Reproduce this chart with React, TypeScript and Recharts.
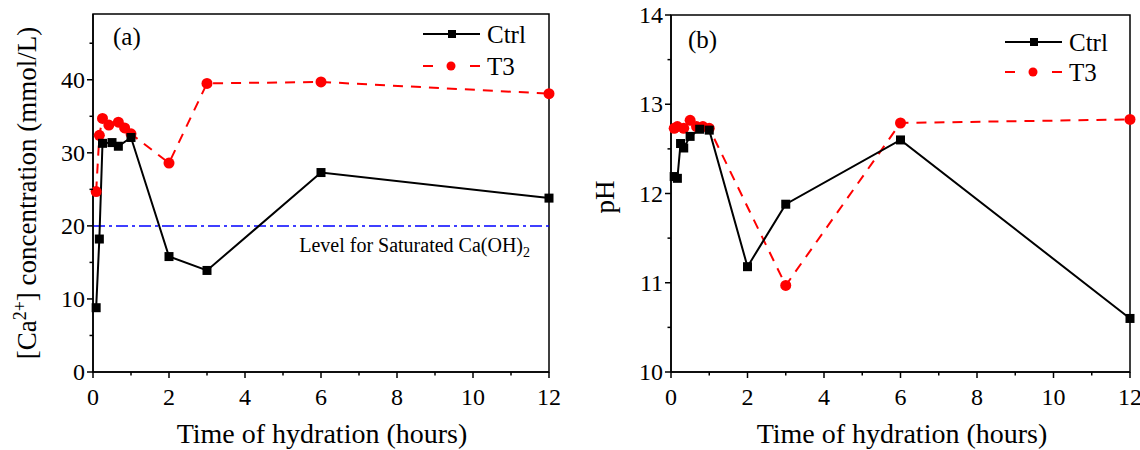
import {
  Customized,
  Line,
  LineChart,
  ReferenceArea,
  ReferenceLine,
  XAxis,
  YAxis,
} from "recharts";

// hydration time (hours) and values
const caCtrlTime = [0.083, 0.167, 0.25, 0.5, 0.667, 1, 2, 3, 6, 12];
const caCtrl = [8.8, 18.2, 31.3, 31.4, 30.9, 32.1, 15.8, 13.9, 27.3, 23.8];
const caT3Time = [0.083, 0.167, 0.25, 0.417, 0.667, 0.833, 1, 2, 3, 6, 12];
const caT3 = [24.7, 32.4, 34.7, 33.8, 34.2, 33.4, 32.6, 28.6, 39.5, 39.7, 38.1];

const phCtrlTime = [0.083, 0.167, 0.25, 0.333, 0.5, 0.75, 1, 2, 3, 6, 12];
const phCtrl = [12.19, 12.17, 12.56, 12.51, 12.64, 12.72, 12.71, 11.18, 11.88, 12.6, 10.6];
const phT3Time = [0.083, 0.167, 0.333, 0.5, 0.667, 0.833, 1, 3, 6, 12];
const phT3 = [12.73, 12.75, 12.73, 12.82, 12.75, 12.75, 12.73, 10.97, 12.79, 12.83];

const xTicks = [0, 1, 2, 3, 4, 5, 6, 7, 8, 9, 10, 11, 12];
const caTicks = [0, 5, 10, 15, 20, 25, 30, 35, 40, 45];
const phTicks = [10, 10.5, 11, 11.5, 12, 12.5, 13, 13.5, 14];
const saturatedLevel = 20;

const FONT = "'Liberation Serif', 'Times New Roman', serif";

const toPoints = (t: number[], v: number[]) => t.map((x, i) => ({ t: x, y: v[i] }));

const XTick = ({ x, y, payload }: any) => {
  const major = payload.value % 2 === 0;
  return (
    <g>
      <line x1={x} x2={x} y1={y} y2={y + (major ? 6 : 3.5)} stroke="#000" strokeWidth={1.5} />
      {major && (
        <text x={x} y={y + 33} textAnchor="middle" fontSize={24} fontFamily={FONT} fill="#000">
          {payload.value}
        </text>
      )}
    </g>
  );
};

const YTick =
  (step: number) =>
  ({ x, y, payload }: any) => {
    const major = Math.abs(payload.value / step - Math.round(payload.value / step)) < 1e-6;
    return (
      <g>
        <line x1={x} x2={x - (major ? 6 : 3.5)} y1={y} y2={y} stroke="#000" strokeWidth={1.5} />
        {major && (
          <text x={x - 8} y={y + 8} textAnchor="end" fontSize={24} fontFamily={FONT} fill="#000">
            {payload.value}
          </text>
        )}
      </g>
    );
  };

const Square = (props: any) => {
  const { cx, cy, index } = props;
  if (cx == null || cy == null) return <g key={index} />;
  return <rect key={index} x={cx - 4.5} y={cy - 4.5} width={9} height={9} fill="#000" />;
};

const Circle = (props: any) => {
  const { cx, cy, index } = props;
  if (cx == null || cy == null) return <g key={index} />;
  return <circle key={index} cx={cx} cy={cy} r={5.5} fill="#ff0000" />;
};

function LegendBox({ x, y1, y2, tag, tagX, tagY }: any) {
  return (
    <g fontFamily={FONT} fill="#000">
      <text x={tagX} y={tagY} fontSize={25}>
        {tag}
      </text>
      <line x1={x} x2={x + 57} y1={y1} y2={y1} stroke="#000" strokeWidth={2} />
      <rect x={x + 25} y={y1 - 4} width={8} height={8} fill="#000" />
      <text x={x + 64} y={y1 + 9} fontSize={25}>
        Ctrl
      </text>
      <line x1={x} x2={x + 10} y1={y2} y2={y2} stroke="#ff0000" strokeWidth={2} />
      <line x1={x + 47} x2={x + 57} y1={y2} y2={y2} stroke="#ff0000" strokeWidth={2} />
      <circle cx={x + 28} cy={y2} r={4.5} fill="#ff0000" />
      <text x={x + 64} y={y2 + 9} fontSize={25}>
        T3
      </text>
    </g>
  );
}

export default function App() {
  return (
    <div style={{ position: "absolute", left: 0, top: 0, width: 1140, height: 450, background: "#fff" }}>
      <div style={{ position: "absolute", left: 0, top: 0 }}>
        <LineChart width={570} height={450} margin={{ top: 14, right: 21, bottom: 18, left: 33 }}>
          <XAxis
            type="number"
            dataKey="t"
            domain={[0, 12]}
            ticks={xTicks}
            interval={0}
            tickSize={0}
            tickMargin={0}
            tickLine={false}
            tick={<XTick />}
            axisLine={{ stroke: "#000", strokeWidth: 1.5 }}
            height={60}
            label={{
              content: () => (
                <text x={322} y={443} textAnchor="middle" fontSize={28} fontFamily={FONT} fill="#000">
                  Time of hydration (hours)
                </text>
              ),
            }}
          />
          <YAxis
            type="number"
            domain={[0, 49]}
            ticks={caTicks}
            interval={0}
            tickSize={0}
            tickMargin={0}
            tickLine={false}
            tick={YTick(10)}
            axisLine={{ stroke: "#000", strokeWidth: 1.5 }}
            width={60}
            label={{
              content: () => (
                <text
                  transform="translate(36, 193) rotate(-90)"
                  textAnchor="middle"
                  fontSize={27}
                  fontFamily={FONT}
                  fill="#000"
                >
                  [Ca
                  <tspan dy={-10} fontSize={18}>
                    2+
                  </tspan>
                  <tspan dy={10}>] concentration (mmol/L)</tspan>
                </text>
              ),
            }}
          />
          <ReferenceArea x1={0} x2={12} y1={0} y2={49} fill="none" stroke="#000" strokeWidth={1.5} />
          <ReferenceLine
            y={saturatedLevel}
            stroke="#0000ff"
            strokeWidth={1.5}
            strokeDasharray="12 4 3 4"
            label={{
              content: () => (
                <text x={530} y={252} textAnchor="end" fontSize={20} fontFamily={FONT} fill="#000">
                  Level for Saturated Ca(OH)
                  <tspan dy={5} fontSize={14}>
                    2
                  </tspan>
                </text>
              ),
            }}
          />
          <Line
            data={toPoints(caT3Time, caT3)}
            dataKey="y"
            stroke="#ff0000"
            strokeWidth={2}
            strokeDasharray="10 8"
            dot={Circle}
            isAnimationActive={false}
          />
          <Line
            data={toPoints(caCtrlTime, caCtrl)}
            dataKey="y"
            stroke="#000"
            strokeWidth={2}
            dot={Square}
            isAnimationActive={false}
          />
          <Customized component={<LegendBox x={423} y1={34} y2={66} tag="(a)" tagX={113} tagY={45} />} />
        </LineChart>
      </div>
      <div style={{ position: "absolute", left: 570, top: 0 }}>
        <LineChart width={570} height={450} margin={{ top: 15, right: 10, bottom: 18, left: 41 }}>
          <XAxis
            type="number"
            dataKey="t"
            domain={[0, 12]}
            ticks={xTicks}
            interval={0}
            tickSize={0}
            tickMargin={0}
            tickLine={false}
            tick={<XTick />}
            axisLine={{ stroke: "#000", strokeWidth: 1.5 }}
            height={60}
            label={{
              content: () => (
                <text x={332} y={443} textAnchor="middle" fontSize={28} fontFamily={FONT} fill="#000">
                  Time of hydration (hours)
                </text>
              ),
            }}
          />
          <YAxis
            type="number"
            domain={[10, 14]}
            ticks={phTicks}
            interval={0}
            tickSize={0}
            tickMargin={0}
            tickLine={false}
            tick={YTick(1)}
            axisLine={{ stroke: "#000", strokeWidth: 1.5 }}
            width={60}
            label={{
              content: () => (
                <text
                  transform="translate(44, 197) rotate(-90)"
                  textAnchor="middle"
                  fontSize={27}
                  fontFamily={FONT}
                  fill="#000"
                >
                  pH
                </text>
              ),
            }}
          />
          <ReferenceArea x1={0} x2={12} y1={10} y2={14} fill="none" stroke="#000" strokeWidth={1.5} />
          <Line
            data={toPoints(phT3Time, phT3)}
            dataKey="y"
            stroke="#ff0000"
            strokeWidth={2}
            strokeDasharray="10 8"
            dot={Circle}
            isAnimationActive={false}
          />
          <Line
            data={toPoints(phCtrlTime, phCtrl)}
            dataKey="y"
            stroke="#000"
            strokeWidth={2}
            dot={Square}
            isAnimationActive={false}
          />
          <Customized component={<LegendBox x={435} y1={42} y2={72} tag="(b)" tagX={118} tagY={48} />} />
        </LineChart>
      </div>
    </div>
  );
}
